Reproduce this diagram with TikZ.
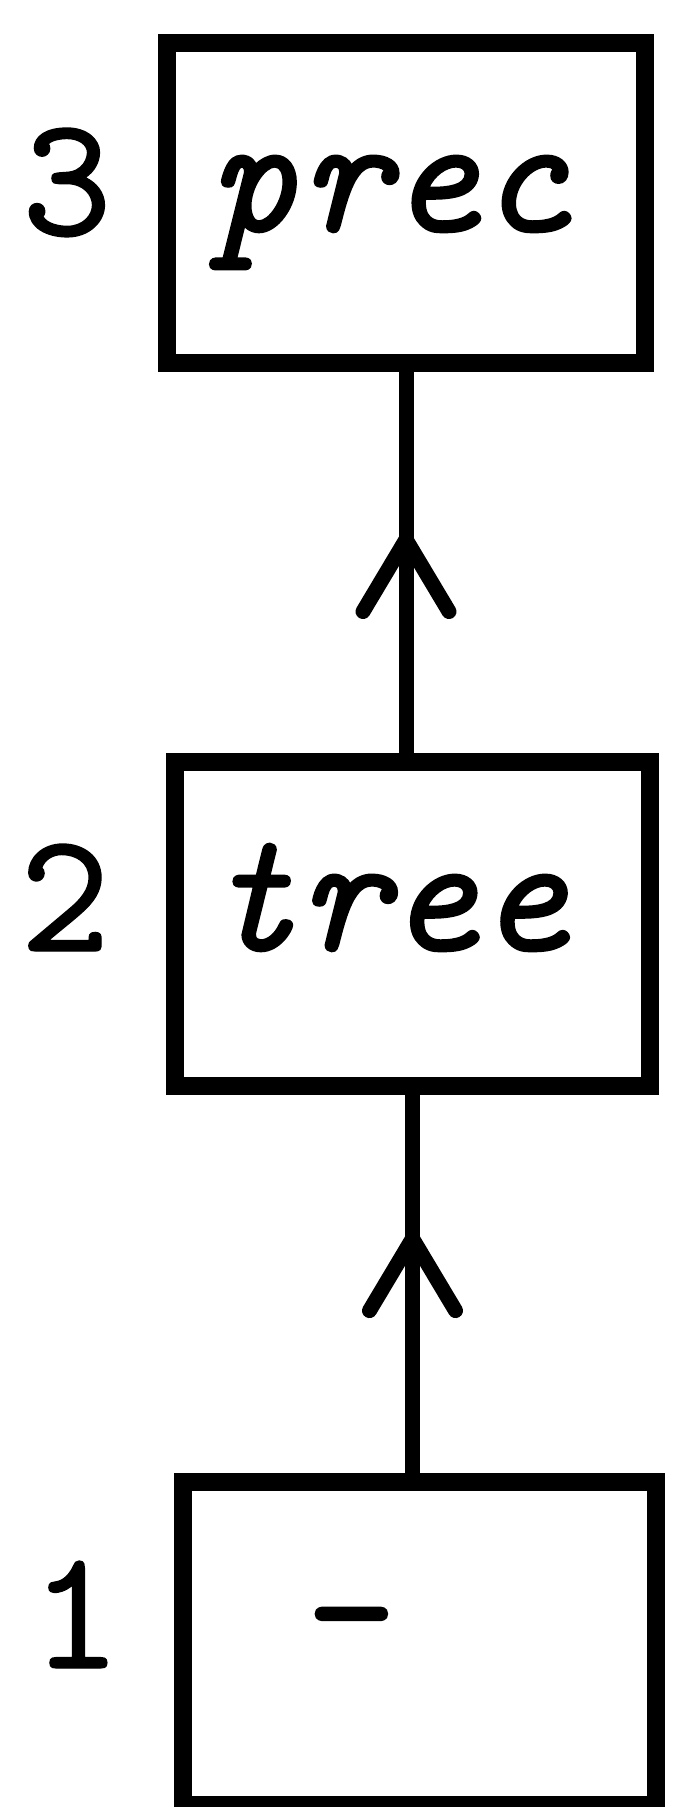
\documentclass[tikz,border=0pt]{standalone}
\usepackage{fontspec}
\newfontfamily\tyit[FakeBold=1.5]{lmmono10-italic.otf}
\newfontfamily\tyrm[FakeBold=1.5]{lmmono10-regular.otf}
\newfontfamily\tynum[FakeBold=0.8]{lmmono10-regular.otf}
\usetikzlibrary{arrows.meta,decorations.markings,calc}
\newcommand{\padR}[1]{\rule{#1}{0pt}}
\tikzset{
  boxnode/.style={draw=black, line width=18pt, inner sep=0pt, font=\tyit\fontsize{172}{172}\selectfont},
  numlabel/.style={anchor=base, inner sep=0pt, font=\tynum\fontsize{172}{172}\selectfont},
  conn/.style={draw=black, line width=15pt},
  midarrow/.style={decoration={markings, mark=at position #1 with {\arrow{Straight Barb[length=72pt,width=86pt,line width=15pt,round]}}}, postaction={decorate}}
}
\begin{document}
\begin{tikzpicture}[x=1pt,y=-1pt]
\useasboundingbox (0,0) rectangle (672,1807);
\node[boxnode, minimum width=478pt, minimum height=320pt, text height=56pt, text depth=0pt] (b3) at (406,203) {prec\padR{34pt}};
\node[boxnode, minimum width=475pt, minimum height=324pt, text height=52pt, text depth=0pt] (b2) at (412.5,924) {tree\padR{50pt}};
\node[boxnode, minimum width=473pt, minimum height=323pt, text height=46pt, text depth=0pt, font=\tyrm\fontsize{172}{172}\selectfont] (b1) at (419.5,1643.5) {-\padR{136pt}};
\node[numlabel] (l3) at (67,235) {3};
\node[numlabel] (l2) at (65,951) {2};
\node[numlabel] (l1) at (76,1668) {1};
\draw[conn, midarrow=0.58] (b3.south |- b2.north) -- (b3.south);
\draw[conn, midarrow=0.64] (b2.south |- b1.north) -- (b2.south);
\end{tikzpicture}
\end{document}
